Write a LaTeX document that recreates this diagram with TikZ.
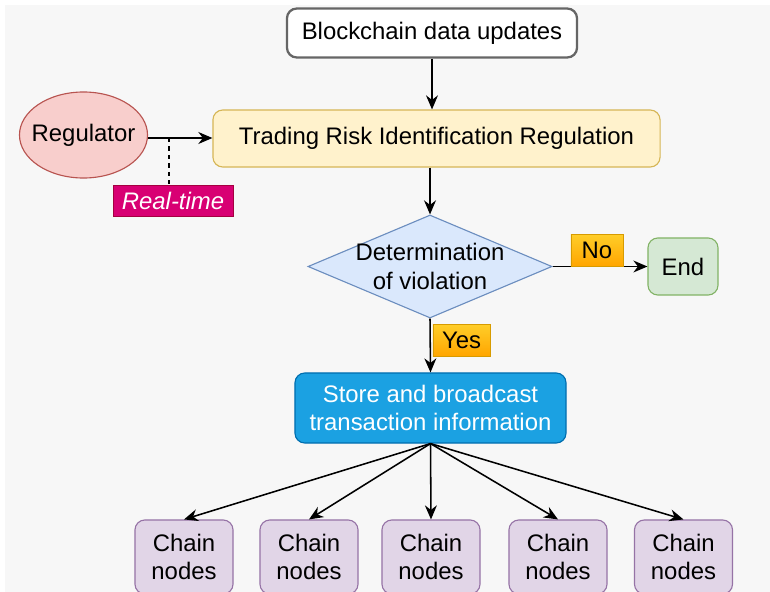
\documentclass[tikz,border=0pt]{standalone}
\usepackage{fontspec}
\setmainfont{Liberation Sans}
\usetikzlibrary{shapes.geometric,arrows.meta,calc}

\definecolor{bgcol}{HTML}{F7F7F7}
\definecolor{updline}{HTML}{666666}
\definecolor{yelfill}{HTML}{FFF2CC}
\definecolor{yelline}{HTML}{D6B656}
\definecolor{redfill}{HTML}{F8CECC}
\definecolor{redline}{HTML}{B85450}
\definecolor{magfill}{HTML}{D80073}
\definecolor{magline}{HTML}{A50040}
\definecolor{bluefill}{HTML}{DAE8FC}
\definecolor{blueline}{HTML}{6C8EBF}
\definecolor{orgtop}{HTML}{FFCD28}
\definecolor{orgbot}{HTML}{FFA500}
\definecolor{orgline}{HTML}{D79B00}
\definecolor{grnfill}{HTML}{D5E8D4}
\definecolor{grnline}{HTML}{82B366}
\definecolor{storefill}{HTML}{1BA1E2}
\definecolor{storeline}{HTML}{006EAF}
\definecolor{purfill}{HTML}{E1D5E7}
\definecolor{purline}{HTML}{9673A6}

\tikzset{
  every node/.style={font=\fontsize{17}{20}\selectfont, inner sep=2pt},
  box/.style={draw, rounded corners=7pt, line width=0.8pt, align=center},
  tag/.style={draw=orgline, top color=orgtop, bottom color=orgbot, line width=0.6pt,
    minimum width=1.3cm, minimum height=0.78cm},
  chain/.style={box, fill=purfill, draw=purline, minimum width=2.45cm, minimum height=1.85cm},
  flow/.style={-{Stealth[length=10pt,width=8.5pt]}, line width=1.1pt},
}

\begin{document}
\begin{tikzpicture}[x=0.025cm, y=-0.025cm]
  \useasboundingbox (0,0) rectangle (770,592);
  \fill[bgcol] (5,5) rectangle (770,592);

  % top part
  \node[box, draw=updline, line width=1.6pt, fill=white, minimum width=7.25cm, minimum height=1.225cm]
    (upd) at (432,33) {Blockchain data updates};
  \node[box, fill=yelfill, draw=yelline, minimum width=11.175cm, minimum height=1.425cm]
    (trir) at (436.5,138.5) {Trading Risk Identification Regulation};
  \node[ellipse, draw=redline, fill=redfill, line width=0.8pt, inner xsep=-0.2cm, inner ysep=0pt,
    minimum width=3.2cm, minimum height=2.15cm] (reg) at (83.5,135) {Regulator};
  \node[draw=magline, fill=magfill, text=white, font=\fontsize{17}{20}\selectfont\itshape,
    minimum width=3cm, minimum height=0.78cm] (rt) at (173,200.5) {Real-time};
  \coordinate (tap) at (169,138);

  \draw[flow] (upd.south) -- (upd.south |- trir.north);
  \draw[flow] (reg.east |- tap) -- (trir.west |- tap);
  \draw[dashed, line width=0.8pt] (tap) -- (tap |- rt.north);

  % decision
  \node[diamond, aspect=2.37, draw=blueline, fill=bluefill, line width=0.8pt, align=center,
    inner xsep=-0.4cm, inner ysep=-0.15cm, minimum width=6.1cm, minimum height=2.575cm]
    (det) at (430,266.5) {Determination\\of violation};
  \node[box, fill=grnfill, draw=grnline, minimum width=1.75cm, minimum height=1.425cm]
    (end) at (683,266.5) {End};
  \node[box, fill=storefill, draw=storeline, text=white, minimum width=6.775cm, minimum height=1.75cm]
    (store) at (430.5,408) {Store and broadcast\\transaction information};

  \draw[flow] (trir.south -| det.north) -- (det.north);
  \draw[flow] (det.east) -- (end.west);
  \draw[flow] (det.south) -- (store.north);
  \node[tag] (no) at (597,250.5) {No};
  \node[tag, minimum width=1.425cm] (yes) at (461.5,340.5) {Yes};

  % chain nodes
  \foreach \i/\x in {1/184,2/309,3/431,4/558,5/683.5}{
    \node[chain] (c\i) at (\x,557) {Chain\\nodes};
    \draw[flow] (store.south) -- (c\i.north);
  }
\end{tikzpicture}
\end{document}
